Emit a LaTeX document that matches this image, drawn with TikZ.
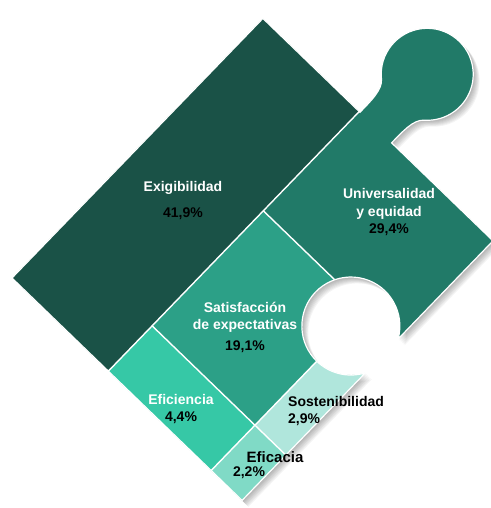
\documentclass[tikz,border=0pt]{standalone}
\usepackage{fontspec}
\setmainfont{Liberation Sans}
\definecolor{exigcol}{RGB}{26,82,71}
\definecolor{univcol}{RGB}{33,122,104}
\definecolor{satcol}{RGB}{44,160,135}
\definecolor{eficcol}{RGB}{54,200,166}
\definecolor{eficaciacol}{RGB}{128,218,198}
\definecolor{sostcol}{RGB}{176,230,220}
\tikzset{
  piece/.style={x={(0.695pt,0.719pt)}, y={(0.719pt,-0.695pt)}},
  divider/.style={draw=white, line width=1.4pt},
  lbl/.style={font=\bfseries\fontsize{14}{17.5}\selectfont, text=white, align=center, inner sep=0pt},
  lbl-dark/.style={lbl, text=black}
}
\newcommand{\pieceoutline}{
  (0,0) -- (361,0) -- (361,135)
  .. controls (377,135) and (393,135.5) .. (399.8,127.4)
  arc[start angle=-140, end angle=140, radius=46]
  .. controls (393,178.5) and (377,179) .. (361,179)
  -- (361,320) -- (224.5,320)
  arc[start angle=61.3, end angle=-241.3, radius=49]
  -- (0,320) -- cycle
}
% cell in the turned frame: u1, v1, u2, v2
\newcommand{\cellbox}[4]{(#1,#2) -- (#3,#2) -- (#3,#4) -- (#1,#4) -- cycle}

\begin{document}
\begin{tikzpicture}[x=1pt, y=1pt]
  \useasboundingbox (0,0) rectangle (490,508);
  \begin{scope}[shift={(12pt,230pt)}, piece]
    % soft shadow
    \foreach \s in {1,...,8}
      \fill[black, opacity=0.045, shift={({0.8*\s*1pt},{-0.8*\s*1pt})}] \pieceoutline;
    % treemap cells (Universalidad fills the whole piece first)
    \fill[univcol] \pieceoutline;
    \begin{scope}
      \clip \pieceoutline;
      \fill[exigcol] \cellbox{0}{0}{361}{134};
      \fill[satcol] \cellbox{63}{134}{223}{277};
      \fill[eficcol] \cellbox{0}{134}{63}{277};
      \fill[eficaciacol] \cellbox{0}{277}{63}{320};
      \fill[sostcol] \cellbox{63}{277}{223}{320};
      \draw[divider] (0,134) -- (361,134);
      \draw[divider] (223,134) -- (223,277);
      \draw[divider] (63,134) -- (63,320);
      \draw[divider] (0,277) -- (223,277);
    \end{scope}
    \draw[white, line width=1.2pt] \pieceoutline;
  \end{scope}
  % labels
  \node[lbl] (exig) at (183,307.5) {Exigibilidad\\[8pt]\textcolor{black}{41,9\%}};
  \node[lbl] (univ) at (389,295.5) {Universalidad\\y equidad\\\textcolor{black}{29,4\%}};
  \node[lbl] (satis) at (245,180.5) {Satisfacción\\de expectativas\\[3.5pt]\textcolor{black}{19,1\%}};
  \node[lbl] (efic) at (181,99) {Eficiencia\\\textcolor{black}{4,4\%}};
  \node[lbl-dark, align=left, anchor=west] (sost) at (288,97) {Sostenibilidad\\2,9\%};
  \node[lbl-dark, font=\bfseries\fontsize{15}{17}\selectfont] (eficacia) at (275,51) {Eficacia};
  \node[lbl-dark] (eficaciapct) at (249,35) {2,2\%};
\end{tikzpicture}
\end{document}
